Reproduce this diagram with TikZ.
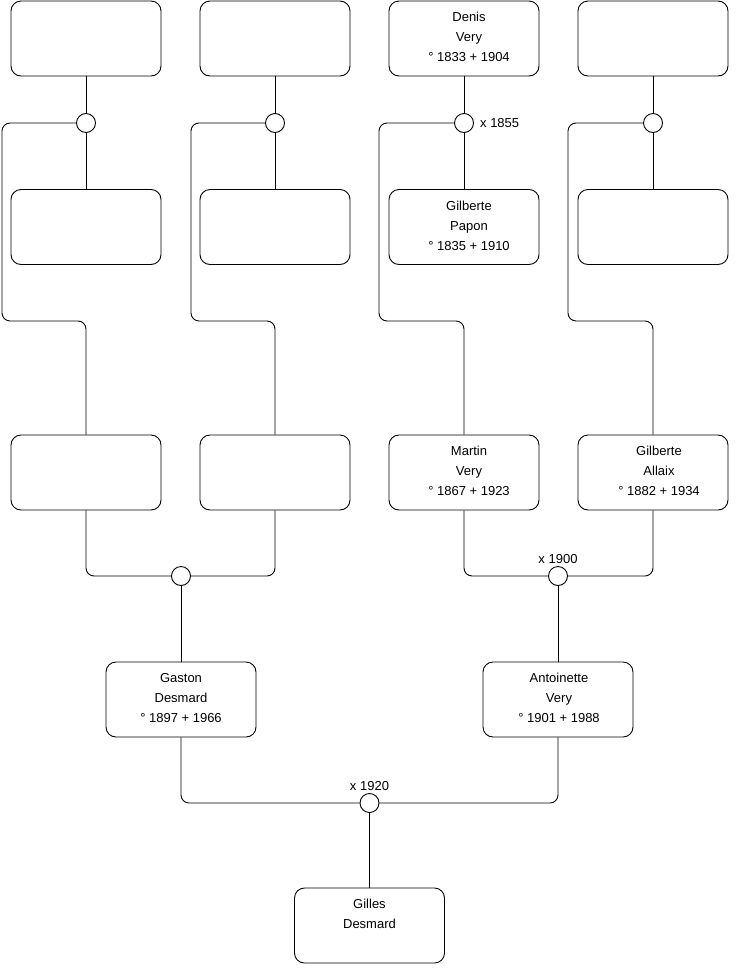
\documentclass[tikz,border=0pt]{standalone}
\usepackage{fontspec}
\setmainfont{Liberation Sans}
\usetikzlibrary{calc}
\begin{document}
\begin{tikzpicture}[x=1pt,y=-1pt,
 box/.style={draw,rounded corners=10pt,minimum width=150pt,minimum height=75pt,inner sep=0pt,line width=0.9pt},
 txt/.style={anchor=north,align=center,inner sep=0pt,font=\fontsize{13}{20}\selectfont},
 marr/.style={draw,circle,minimum size=19pt,inner sep=0pt,fill=white,line width=0.9pt},
 link/.style={line width=0.9pt,rounded corners=8pt},
 lbl/.style={font=\fontsize{13}{15}\selectfont,inner sep=0pt}]
\useasboundingbox (0,0) rectangle (740,975);
% row 1
\node[box] (a1) at (86,38.5) {};
\node[box] (b1) at (275,38.5) {};
\node[box] (c1) at (464,38.5) {};
\node[box] (d1) at (653,38.5) {};
\node[txt] at ($(c1.north)+(5,11.5)$) {Denis\\Very\\° 1833 + 1904};
% row 2
\node[box] (a2) at (86,227) {};
\node[box] (b2) at (275,227) {};
\node[box] (c2) at (464,227) {};
\node[box] (d2) at (653,227) {};
\node[txt] at ($(c2.north)+(5,11.5)$) {Gilberte\\Papon\\° 1835 + 1910};
% row 3
\node[box] (a3) at (86,472.5) {};
\node[box] (b3) at (275,472.5) {};
\node[box] (c3) at (464,472.5) {};
\node[box] (d3) at (653,472.5) {};
\node[txt] at ($(c3.north)+(5,11.5)$) {Martin\\Very\\° 1867 + 1923};
\node[txt] at ($(d3.north)+(6,11.5)$) {Gilberte\\Allaix\\° 1882 + 1934};
% row 4
\node[box] (a4) at (181,699.5) {};
\node[box] (b4) at (558,699.5) {};
\node[txt] at ($(a4.north)+(0,11.5)$) {Gaston\\Desmard\\° 1897 + 1966};
\node[txt] at ($(b4.north)+(1,11)$) {Antoinette\\Very\\° 1901 + 1988};
% row 5
\node[box] (a5) at (369.5,925.5) {};
\node[txt] at ($(a5.north)+(0,11.5)$) {Gilles\\Desmard};
% marriage circles
\node[marr] (ma) at (86,123) {};
\node[marr] (mb) at (275,123) {};
\node[marr] (mc) at (464,123) {};
\node[marr] (md) at (653,123) {};
\node[marr] (me) at (181,576) {};
\node[marr] (mf) at (558,576) {};
\node[marr] (mg) at (369.5,803) {};
% labels
\node[lbl,anchor=west] at ($(mc.east)+(6,0.5)$) {x 1855};
\node[lbl,anchor=south] at ($(mf.north)+(0,-2)$) {x 1900};
\node[lbl,anchor=south] at ($(mg.north)+(0,-2)$) {x 1920};
% connectors top generation
\foreach \p/\m/\q/\x/\lx in {a/ma/a/86/2, b/mb/b/275/191, c/mc/c/464/379, d/md/d/653/568} {
  \draw[link] (\p1.south) -- (\m.north);
  \draw[link] (\m.south) -- (\q2.north);
  \draw[link] (\m.west) -- (\lx,123) -- (\lx,321) -- (\x,321) -- (\q3.north);
}
% row 3 to row 4
\draw[link] (a3.south) |- (me.west);
\draw[link] (b3.south) |- (me.east);
\draw[link] (c3.south) |- (mf.west);
\draw[link] (d3.south) |- (mf.east);
\draw[link] (me.south) -- (a4.north);
\draw[link] (mf.south) -- (b4.north);
% row 4 to row 5
\draw[link] (a4.south) |- (mg.west);
\draw[link] (b4.south) |- (mg.east);
\draw[link] (mg.south) -- (a5.north);
\end{tikzpicture}
\end{document}
